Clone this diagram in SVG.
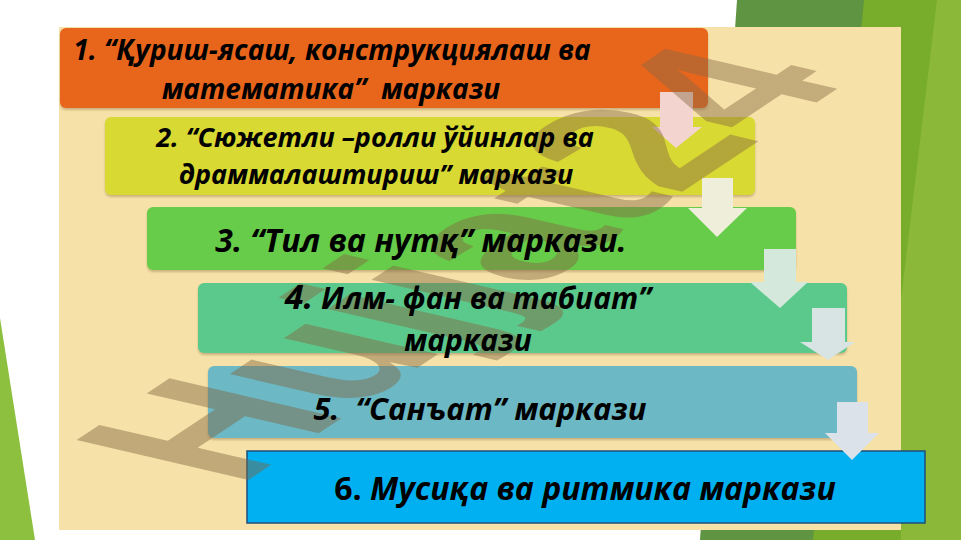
<svg xmlns="http://www.w3.org/2000/svg" width="961" height="540" viewBox="0 0 961 540">
<style>
.t{font-family:"Open Sans","Noto Sans","DejaVu Sans",sans-serif;font-weight:bold;font-style:italic;fill:#000;text-anchor:middle}
.box{filter:url(#sh)}
.arr{stroke:none}
.wm{font-family:"Liberation Sans","Arial",sans-serif;font-weight:bold;font-size:100px}
</style>
<defs>
<filter id="sh" x="-5%" y="-10%" width="110%" height="130%">
<feDropShadow dx="0" dy="2" stdDeviation="1.2" flood-color="#7a5a30" flood-opacity="0.35"/>
</filter>
<linearGradient id="wmg" gradientUnits="userSpaceOnUse" x1="300" y1="360" x2="760" y2="60">
<stop offset="0" stop-color="#80643f"/>
<stop offset="0.6" stop-color="#8a6a45"/>
<stop offset="0.75" stop-color="#a080c8"/>
<stop offset="1" stop-color="#b090f0"/>
</linearGradient>
</defs>
<rect width="961" height="540" fill="#ffffff"/>
<g id="decor">
<polygon points="737,0 865,0 900,540 700,540" fill="#5f9442"/>
<polygon points="864,0 961,0 961,540 813,540" fill="#77ad2a"/>
<polygon points="937,0 961,0 961,540 901,540 901,300" fill="#8cb83a"/>
<polygon points="0,318 35,540 0,540" fill="#8dc03f"/>
<rect x="59" y="27" width="842" height="503" fill="#f6e2a8"/>
</g>
<g id="node1"><rect class="box" x="60" y="28" width="648" height="80" rx="6" fill="#e8651e"/></g>
<g id="node2"><rect class="box" x="105" y="117" width="650" height="78" rx="6" fill="#d8d930"/></g>
<g id="node3"><rect class="box" x="147" y="207" width="649" height="63" rx="6" fill="#66cc48"/></g>
<g id="node4"><rect class="box" x="198" y="283" width="649" height="70" rx="6" fill="#5cc98c"/></g>
<g id="node5"><rect class="box" x="208" y="366" width="649" height="72" rx="6" fill="#6cb8c4"/></g>
<g id="node6"><rect x="247" y="451" width="678" height="72" fill="#00b0f0" stroke="#1f4e79" stroke-width="1.5"/></g>
<g id="connectors">
<polygon class="arr" points="660,92 693,92 693,127 702,127 676,148 652,127 660,127" fill="#f3d4ce"/>
<polygon class="arr" points="702,178 733,178 733,208 747,208 717,237 688,208 702,208" fill="#eeeeda"/>
<polygon class="arr" points="764,249 796,249 796,282 808,282 780,308 750,282 764,282" fill="#d4e8dc"/>
<polygon class="arr" points="812,308 845,308 845,342 855,342 828,360 800,342 812,342" fill="#d8e4e4"/>
<polygon class="arr" points="837,402 868,402 868,433 879,433 852,460 825,433 837,433" fill="#dce2ea"/>
</g>
<text class="wm" transform="matrix(1.58 -1.05 2.5 0.58 238 487)" fill="url(#wmg)" fill-opacity="0.45">Hujjat24</text>
<g id="labels">
<text class="t" font-size="28"><tspan x="332" y="60">1. “Қуриш-ясаш, конструкциялаш ва</tspan><tspan x="331" y="99">математика”&#160; маркази</tspan></text>
<text class="t" font-size="27"><tspan x="375" y="147">2. “Сюжетли –ролли ўйинлар ва</tspan><tspan x="376" y="184">драммалаштириш” маркази</tspan></text>
<text class="t" font-size="32" x="421" y="252">3. “Тил ва нутқ” маркази.</text>
<text class="t" font-size="30"><tspan x="468" y="309"><tspan font-size="34">4.</tspan> Илм- фан ва табиат”</tspan><tspan x="468" y="351">маркази</tspan></text>
<text class="t" font-size="31" x="480" y="420">5.&#160; “Санъат” маркази</text>
<text class="t" font-size="32" x="585" y="500"><tspan font-style="normal">6.</tspan> Мусиқа ва ритмика маркази</text>
</g>
</svg>
